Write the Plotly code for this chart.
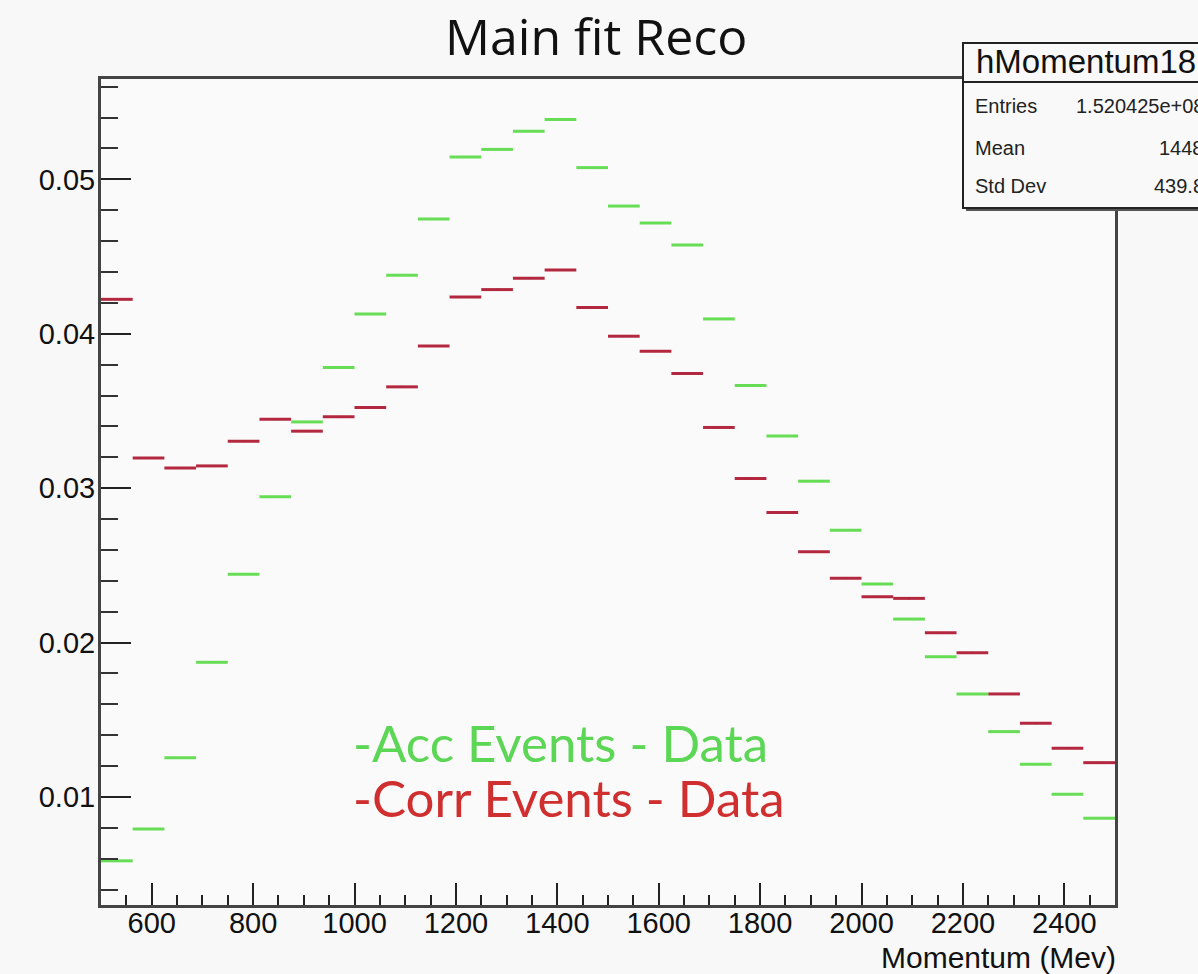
import plotly.graph_objects as go

# Histogram binning: 32 bins of 62.5 MeV between 500 and 2500 MeV
x_min, x_max, n_bins = 500.0, 2500.0, 32
bin_width = (x_max - x_min) / n_bins
bin_centers = [x_min + (i + 0.5) * bin_width for i in range(n_bins)]

# Normalised bin contents
acc_events = [0.00586, 0.00793, 0.01254, 0.01872, 0.02443, 0.02944, 0.03429, 0.03781,
              0.04128, 0.04379, 0.04743, 0.05144, 0.05194, 0.05311, 0.05388, 0.05076,
              0.04827, 0.04717, 0.04575, 0.04096, 0.03665, 0.03337, 0.03045, 0.02728,
              0.02379, 0.02152, 0.01908, 0.01667, 0.01423, 0.01212, 0.01017, 0.00862]
corr_events = [0.04223, 0.03196, 0.03131, 0.03144, 0.03304, 0.03447, 0.03369, 0.03462,
               0.03522, 0.03656, 0.03921, 0.04238, 0.04286, 0.04359, 0.04413, 0.04170,
               0.03984, 0.03887, 0.03742, 0.03393, 0.03063, 0.02843, 0.02588, 0.02416,
               0.02297, 0.02286, 0.02063, 0.01934, 0.01667, 0.01477, 0.01315, 0.01222]

x_ticks = [600, 800, 1000, 1200, 1400, 1600, 1800, 2000, 2200, 2400]
y_ticks = [0.01, 0.02, 0.03, 0.04, 0.05]

stats_name = "hMomentum18"
stats_rows = [("Entries", "1.520425e+08"), ("Mean", "1448"), ("Std Dev", "439.8")]

W, H = 1198, 974
L, R, T, B = 101, 1115, 79, 905


def px(p):
    return (p - L) / (R - L)


def py(q):
    return (B - q) / (B - T)


fig = go.Figure()

half = [bin_width / 2] * n_bins
for vals, col in ((corr_events, "#b3283f"), (acc_events, "#66dd55")):
    fig.add_trace(go.Scatter(
        x=bin_centers, y=vals, mode="markers",
        marker=dict(size=2, color=col),
        error_x=dict(type="data", array=half, width=0, thickness=3, color=col),
        showlegend=False, hoverinfo="x+y",
    ))

annotations = [
    dict(text="Main fit Reco", x=px(596), y=py(36), xanchor="center", yanchor="middle",
         font=dict(family="Open Sans", size=50, color="#111111")),
    dict(text="-Acc Events - Data", x=px(351), y=py(742), xanchor="left", yanchor="middle",
         font=dict(family="Lato", size=51, color="#5cd655")),
    dict(text="-Corr Events - Data", x=px(351), y=py(797), xanchor="left", yanchor="middle",
         font=dict(family="Lato", size=51, color="#cf2f2f")),
    dict(text="Momentum (Mev)", x=px(1118), y=py(957), xanchor="right", yanchor="middle",
         font=dict(family="Liberation Sans", size=30, color="#111111")),
    dict(text=stats_name, x=px(974), y=py(62), xanchor="left", yanchor="middle",
         font=dict(family="Liberation Sans", size=33, color="#111111")),
]
row_y = [106, 148, 186]
for (lab, val), yy in zip(stats_rows, row_y):
    annotations.append(dict(text=lab, x=px(973), y=py(yy), xanchor="left", yanchor="middle",
                            font=dict(family="Liberation Sans", size=20, color="#222222")))
    annotations.append(dict(text=val, x=px(1206), y=py(yy), xanchor="right", yanchor="middle",
                            font=dict(family="Liberation Sans", size=20, color="#222222")))
for a in annotations:
    a.update(xref="paper", yref="paper", showarrow=False)

shapes = [
    # stats box with drop shadow
    dict(type="rect", x0=px(966), x1=px(1240), y0=py(211), y1=py(46),
         fillcolor="#555555", line=dict(width=0)),
    dict(type="rect", x0=px(963), x1=px(1240), y0=py(208), y1=py(43),
         fillcolor="#f9f9f9", line=dict(color="#222222", width=2)),
    dict(type="line", x0=px(963), x1=px(1240), y0=py(82), y1=py(82),
         line=dict(color="#222222", width=2)),
]
for s in shapes:
    s.update(xref="paper", yref="paper")

fig.update_layout(
    width=W, height=H,
    margin=dict(l=L, r=W - R, t=T, b=H - B, pad=0),
    paper_bgcolor="#f8f8f8", plot_bgcolor="#fafafa",
    annotations=annotations, shapes=shapes,
    xaxis=dict(
        range=[x_min, x_max], tickmode="array", tickvals=x_ticks,
        ticks="inside", ticklen=22, tickwidth=2, tickcolor="#222222",
        minor=dict(dtick=50, tick0=500, ticks="inside", ticklen=10, tickwidth=2, tickcolor="#222222", showgrid=False),
        showgrid=False, zeroline=False, showline=True, mirror=True,
        linecolor="#444444", linewidth=3,
        tickfont=dict(family="Liberation Sans", size=29, color="#111111"),
        ticklabelstandoff=-10,
    ),
    yaxis=dict(
        range=[0.003, 0.0565], tickmode="array", tickvals=y_ticks, tickformat=".2f",
        ticks="inside", ticklen=30, tickwidth=2, tickcolor="#222222",
        minor=dict(dtick=0.002, tick0=0.0, ticks="inside", ticklen=17, tickwidth=2, tickcolor="#333333", showgrid=False),
        showgrid=False, zeroline=False, showline=True, mirror=True,
        linecolor="#444444", linewidth=3,
        tickfont=dict(family="Liberation Sans", size=29, color="#111111"),
        ticklabelstandoff=-3,
    ),
)

fig.write_html("out.html")
